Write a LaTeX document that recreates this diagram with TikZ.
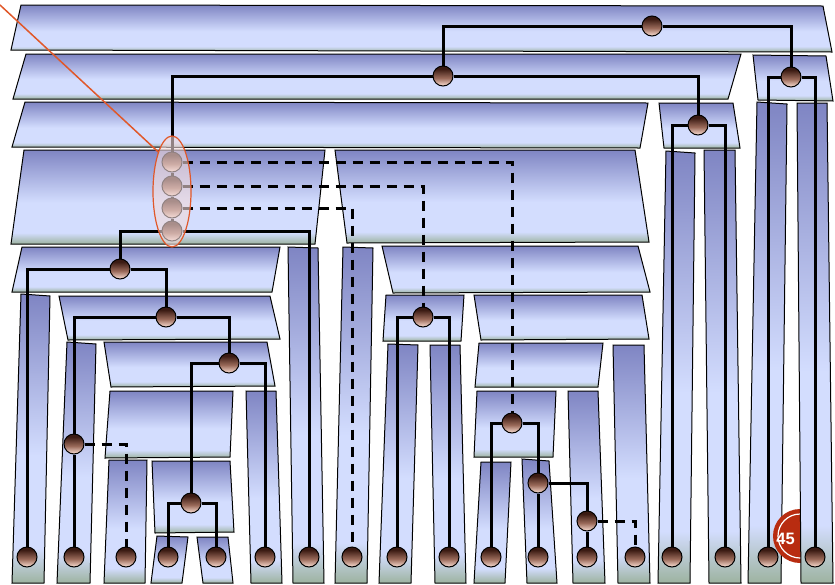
\documentclass[tikz,border=0pt]{standalone}
\usepackage{fontspec}
\setmainfont{Liberation Sans}
\usetikzlibrary{shapes.geometric}
\definecolor{btop}{HTML}{7F85C3}
\definecolor{blight}{HTML}{D3DDFE}
\definecolor{bbot}{HTML}{9DB3A0}
\definecolor{nodetop}{HTML}{3A1A12}
\definecolor{nodemid}{HTML}{9A6A5A}
\definecolor{nodebot}{HTML}{F4D6CA}
\definecolor{badgered}{HTML}{B82C10}
\definecolor{hlline}{HTML}{E0582A}
\definecolor{hlfill}{HTML}{F2DADA}
\pgfdeclareverticalshading{band}{100bp}{color(0bp)=(bbot); color(25bp)=(bbot); color(31bp)=(blight); color(47bp)=(blight); color(75bp)=(btop); color(100bp)=(btop)}
\pgfdeclareverticalshading{ballsh}{100bp}{color(0bp)=(nodebot); color(27bp)=(nodebot); color(45bp)=(nodemid); color(68bp)=(nodetop); color(100bp)=(nodetop)}
\tikzset{
  plate/.style={shading=band, draw=black, line width=1pt},
  conn/.style={line width=3pt, black},
  dconn/.style={conn, dash pattern=on 10pt off 7pt},
  dot/.style={circle, minimum size=20pt, inner sep=0pt, draw=black, line width=1pt, shade, shading=ballsh},
  highlight/.style={ellipse, minimum width=38pt, minimum height=111pt, inner sep=0pt, draw=hlline, line width=1.2pt, fill=hlfill, fill opacity=0.6},
  redline/.style={draw=hlline, line width=1.5pt},
}
\begin{document}
\begin{tikzpicture}[x=1pt,y=-1pt]
\useasboundingbox (0,0) rectangle (835,584);
% plates
\shadedraw[plate] (21,5) -- (823,6) -- (832,52) -- (11,50) -- cycle;
\shadedraw[plate] (26,54) -- (741,54) -- (728,99) -- (13,99) -- cycle;
\shadedraw[plate] (753,55) -- (826,56) -- (833,101) -- (758,100) -- cycle;
\shadedraw[plate] (25,102) -- (648,103) -- (640,148) -- (12,147) -- cycle;
\shadedraw[plate] (659,103) -- (733,103) -- (740,148) -- (664,148) -- cycle;
\shadedraw[plate] (24,150) -- (325,150) -- (315,244) -- (11,244) -- cycle;
\shadedraw[plate] (335,150) -- (635,150) -- (649,242) -- (347,243) -- cycle;
\shadedraw[plate] (666,151) -- (695,153) -- (690,583) -- (658,583) -- cycle;
\shadedraw[plate] (704,150) -- (735,150) -- (741,583) -- (709,583) -- cycle;
\shadedraw[plate] (757,102) -- (787,104) -- (781,583) -- (748,583) -- cycle;
% badge
\fill[badgered] (800,536) circle (27);
\draw[white, line width=1.2pt] (800,536) circle (22);
\node[text=white, font=\fontsize{16.5}{18}\selectfont\bfseries, inner sep=0pt] (badge) at (785.5,539) {45};
\shadedraw[plate] (797,103) -- (827,103) -- (833,583) -- (801,583) -- cycle;
\shadedraw[plate] (22,247) -- (280,247) -- (272,292) -- (12,292) -- cycle;
\shadedraw[plate] (21,294) -- (50,296) -- (44,583) -- (12,583) -- cycle;
\shadedraw[plate] (59,296) -- (270,296) -- (280,339) -- (68,340) -- cycle;
\shadedraw[plate] (67,342) -- (96,344) -- (90,583) -- (57,583) -- cycle;
\shadedraw[plate] (104,342) -- (267,342) -- (275,386) -- (111,387) -- cycle;
\shadedraw[plate] (110,391) -- (233,391) -- (230,457) -- (105,458) -- cycle;
\shadedraw[plate] (246,391) -- (276,391) -- (282,583) -- (251,583) -- cycle;
\shadedraw[plate] (109,460) -- (147,460) -- (145,583) -- (104,583) -- cycle;
\shadedraw[plate] (152,461) -- (230,461) -- (234,532) -- (155,533) -- cycle;
\shadedraw[plate] (157,536) -- (188,537) -- (182,583) -- (151,583) -- cycle;
\shadedraw[plate] (197,537) -- (228,537) -- (233,583) -- (203,583) -- cycle;
\shadedraw[plate] (288,247) -- (318,248) -- (324,583) -- (293,583) -- cycle;
\shadedraw[plate] (343,247) -- (373,248) -- (367,583) -- (335,583) -- cycle;
\shadedraw[plate] (382,246) -- (638,246) -- (650,292) -- (393,293) -- cycle;
\shadedraw[plate] (386,295) -- (464,295) -- (461,341) -- (383,341) -- cycle;
\shadedraw[plate] (388,344) -- (418,345) -- (411,583) -- (379,583) -- cycle;
\shadedraw[plate] (430,345) -- (460,345) -- (466,583) -- (435,583) -- cycle;
\shadedraw[plate] (474,295) -- (642,295) -- (649,339) -- (481,340) -- cycle;
\shadedraw[plate] (479,343) -- (603,343) -- (598,387) -- (475,387) -- cycle;
\shadedraw[plate] (613,345) -- (644,345) -- (650,583) -- (618,583) -- cycle;
\shadedraw[plate] (477,391) -- (556,391) -- (553,457) -- (474,457) -- cycle;
\shadedraw[plate] (568,391) -- (598,391) -- (605,583) -- (573,583) -- cycle;
\shadedraw[plate] (481,462) -- (511,462) -- (505,583) -- (474,583) -- cycle;
\shadedraw[plate] (522,459) -- (549,461) -- (557,583) -- (527,583) -- cycle;
% nodes
\node[dot] (ntop) at (652,26) {};
\node[dot] (n2) at (443,76) {};
\node[dot] (n2r) at (791,77) {};
\node[dot] (n3r) at (698,125) {};
\node[dot] (e1) at (172,162) {};
\node[dot] (e2) at (172,186) {};
\node[dot] (e3) at (172,208) {};
\node[dot] (e4) at (172,231) {};
\node[dot] (n5) at (120,269) {};
\node[dot] (n6) at (166,317) {};
\node[dot] (n7) at (229,363) {};
\node[dot] (n8) at (74,444) {};
\node[dot] (n9) at (191,503) {};
\node[dot] (nmid) at (423,317) {};
\node[dot] (nr1) at (512,423) {};
\node[dot] (nr2) at (538,483) {};
\node[dot] (nr3) at (587,521) {};
\foreach \x in {27,74,126,168,216,265,309,352,397,449,491,538,587,635,672,725,768,815}
  \node[dot] (l\x) at (\x,557) {};
% connectors
\draw[conn] (ntop) -| (n2);
\draw[conn] (ntop) -| (n2r);
\draw[conn] (n2) -| (e1);
\draw[conn] (n2) -| (n3r);
\draw[conn] (n2r) -| (l768);
\draw[conn] (n2r) -| (l815);
\draw[conn] (n3r) -| (l672);
\draw[conn] (n3r) -| (l725);
\draw[conn] (e1) -- (e2);
\draw[conn] (e2) -- (e3);
\draw[conn] (e3) -- (e4);
\draw[conn] (e4) -| (n5);
\draw[conn] (e4) -| (l309);
\draw[dconn] (e1) -| (nr1);
\draw[dconn] (e2) -| (nmid);
\draw[dconn] (e3) -| (l352);
\draw[conn] (n5) -| (l27);
\draw[conn] (n5) -| (n6);
\draw[conn] (n6) -| (n8);
\draw[conn] (n6) -| (n7);
\draw[conn] (n8) -- (l74);
\draw[dconn] (n8) -| (l126);
\draw[conn] (n7) -| (n9);
\draw[conn] (n7) -| (l265);
\draw[conn] (n9) -| (l168);
\draw[conn] (n9) -| (l216);
\draw[conn] (nmid) -| (l397);
\draw[conn] (nmid) -| (l449);
\draw[conn] (nr1) -| (l491);
\draw[conn] (nr1) -| (nr2);
\draw[conn] (nr2) -- (l538);
\draw[conn] (nr2) -| (nr3);
\draw[conn] (nr3) -- (l587);
\draw[dconn] (nr3) -| (l635);
% highlight
\node[highlight] (hl) at (172,191.5) {};
\coordinate (tip) at (0,5);
\draw[redline] (tip) -- (hl.north west);
\end{tikzpicture}
\end{document}
